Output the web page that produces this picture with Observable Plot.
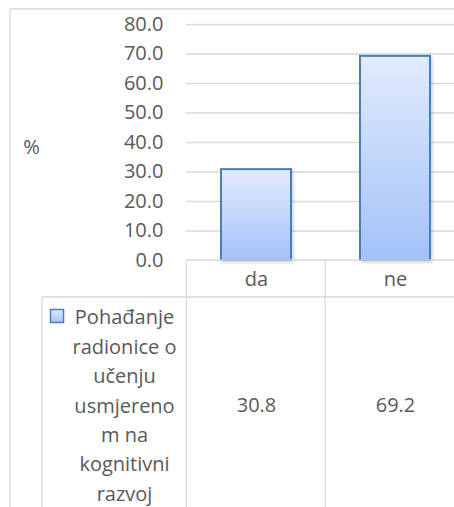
<!DOCTYPE html>
<html>
<head>
<meta charset="utf-8">
<script src="https://cdn.jsdelivr.net/npm/d3@7"></script>
<script src="https://cdn.jsdelivr.net/npm/@observablehq/plot@0.6"></script>
<style>
  html, body { margin: 0; padding: 0; background: #fff; overflow: hidden; }
</style>
</head>
<body>
<div id="chart"></div>
<script>
const categories = ["da", "ne"];
const values = [30.8, 69.2];
const yTicks = [0, 10, 20, 30, 40, 50, 60, 70, 80];
const yLabel = "%";
const seriesLines = ["Pohađanje", "radionice o", "učenju", "usmjereno", "m na", "kognitivni", "razvoj"];

const data = categories.map((c, i) => ({ cat: c, value: values[i] }));
const textColor = "#595959";
const lineColor = "#d9d9d9";

const plot = Plot.plot({
  width: 454,
  height: 507,
  marginTop: 24,
  marginBottom: 247,
  marginLeft: 186,
  marginRight: 0,
  style: { fontFamily: "'Open Sans', sans-serif", fontSize: "20px", color: textColor, background: "#fff" },
  x: { type: "band", domain: categories, range: [186, 464], paddingInner: 0.5, paddingOuter: 0.25, label: null },
  y: { domain: [0, 80], label: null },
  marks: [
    Plot.gridY(yTicks.filter(d => d > 0), { stroke: lineColor, strokeOpacity: 1, strokeWidth: 1.3 }),
    Plot.axisY(yTicks, { tickSize: 0, tickPadding: 23, tickFormat: d => d.toFixed(1), fontSize: 20, fill: textColor, label: null }),
    Plot.axisX({ tickSize: 0, tickPadding: 11, fontSize: 20, fill: textColor, label: null }),
    Plot.barY(data, { x: "cat", y: "value", fill: "#c0d4fa", stroke: "#4a7ebb", strokeWidth: 2 }),
    Plot.text(data, { x: "cat", y: 0, text: d => d.value.toFixed(1), dy: 145, lineAnchor: "middle", fill: textColor, fontSize: 20 }),
    Plot.text([yLabel], { frameAnchor: "left", dx: -155, dy: 5, text: d => d, textAnchor: "middle", fill: textColor, fontSize: 20 }),
    Plot.text([seriesLines.join("\n")], { frameAnchor: "bottom-left", dx: -62, dy: 43, text: d => d, textAnchor: "middle", lineAnchor: "top", lineHeight: 1.47, fill: textColor, fontSize: 20 })
  ]
});

const svg = d3.select(plot);
const defs = svg.insert("defs", ":first-child");
const g = defs.append("linearGradient").attr("id", "barGrad").attr("x1", 0).attr("y1", 0).attr("x2", 0).attr("y2", 1);
g.append("stop").attr("offset", "0%").attr("stop-color", "#e1ebfd");
g.append("stop").attr("offset", "100%").attr("stop-color", "#a3c2f9");
const f = defs.append("filter").attr("id", "shadow").attr("x", "-10%").attr("y", "-10%").attr("width", "130%").attr("height", "130%");
f.append("feDropShadow").attr("dx", 1.5).attr("dy", 1.5).attr("stdDeviation", 1.5).attr("flood-color", "#000").attr("flood-opacity", 0.18);

svg.selectAll("g[aria-label='bar'] rect").attr("fill", "url(#barGrad)").attr("filter", "url(#shadow)");

// data table & outer border (decoration)
const xs = plot.scale("x");
const ys = plot.scale("y");
const step = xs.step;
const x0 = xs.apply(categories[0]) - step * 0.25; // left edge of first cell
const y0 = ys.apply(0);
const rowBottom = y0 + 37;
const W = 454, H = 507;
const lines = svg.append("g").attr("stroke", lineColor).attr("stroke-width", 1.3).attr("fill", "none");
// outer border
lines.append("line").attr("x1", 10).attr("x2", W + 5).attr("y1", 9).attr("y2", 9);
lines.append("line").attr("x1", 10).attr("x2", 10).attr("y1", 9).attr("y2", H + 5);
// table
lines.append("line").attr("x1", x0).attr("x2", W + 5).attr("y1", y0).attr("y2", y0);
lines.append("line").attr("x1", 42).attr("x2", W + 5).attr("y1", rowBottom).attr("y2", rowBottom);
categories.forEach((c, i) => {
  const xx = x0 + i * step;
  lines.append("line").attr("x1", xx).attr("x2", xx).attr("y1", y0).attr("y2", H + 5);
});
lines.append("line").attr("x1", 42).attr("x2", 42).attr("y1", rowBottom).attr("y2", H + 5);
// legend key
svg.append("rect").attr("x", 50.5).attr("y", 309.5).attr("width", 13).attr("height", 13)
  .attr("fill", "url(#barGrad)").attr("stroke", "#4a7ebb").attr("stroke-width", 1.5);

document.getElementById("chart").appendChild(plot);
</script>
</body>
</html>
